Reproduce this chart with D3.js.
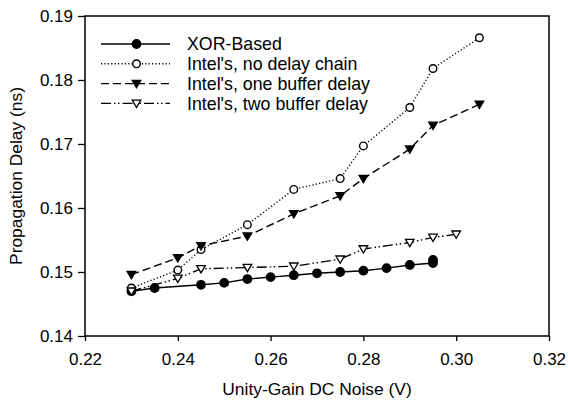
<!DOCTYPE html>
<html><head><meta charset="utf-8">
<script src="https://cdn.jsdelivr.net/npm/d3@7"></script>
<style>
html,body{margin:0;padding:0;background:#fff;}
svg{display:block;font-family:"Liberation Sans",Arial,sans-serif;}
</style></head>
<body><svg id="c" width="568" height="401"></svg>
<script>
const xTicks = [0.22,0.24,0.26,0.28,0.30,0.32];
const yTicks = [0.14,0.15,0.16,0.17,0.18,0.19];

const xorX = [0.23,0.235,0.245,0.25,0.255,0.26,0.265,0.27,0.275,0.28,0.285,0.29,0.295,0.295];
const xorY = [0.1470,0.1475,0.1480,0.1483,0.1489,0.1492,0.1495,0.1498,0.1500,0.1502,0.1506,0.1511,0.1514,0.1519];

const noDelayX = [0.23,0.24,0.245,0.255,0.265,0.275,0.28,0.29,0.295,0.305];
const noDelayY = [0.1475,0.1503,0.1535,0.1574,0.1629,0.1646,0.1697,0.1757,0.1818,0.1866];

const oneBufX = [0.23,0.24,0.245,0.255,0.265,0.275,0.28,0.29,0.295,0.305];
const oneBufY = [0.1496,0.1522,0.1541,0.1556,0.1591,0.1619,0.1646,0.1692,0.1729,0.1762];

const twoBufX = [0.23,0.24,0.245,0.255,0.265,0.275,0.28,0.29,0.295,0.30];
const twoBufY = [0.1470,0.1490,0.1505,0.1507,0.1509,0.1520,0.1536,0.1546,0.1554,0.1559];

const seriesNames = ["XOR-Based","Intel's, no delay chain","Intel's, one buffer delay","Intel's, two buffer delay"];

const svg = d3.select("#c");
const L=85, R=549, T=16, B=336;
const x = d3.scaleLinear().domain([0.22,0.32]).range([L,R]);
const y = d3.scaleLinear().domain([0.14,0.19]).range([B,T]);

// frame
svg.append("rect").attr("x",L).attr("y",T).attr("width",R-L).attr("height",B-T)
  .attr("fill","none").attr("stroke","#000").attr("stroke-width",1.5);

const xa = svg.append("g").attr("transform",`translate(0,${B})`)
  .call(d3.axisBottom(x).tickValues(xTicks).tickFormat(d3.format(".2f")).tickSize(5).tickPadding(12));
const ya = svg.append("g").attr("transform",`translate(${L},0)`)
  .call(d3.axisLeft(y).tickValues(yTicks).tickFormat(d3.format(".2f")).tickSize(7).tickPadding(5));
[xa,ya].forEach(a=>{
  a.select(".domain").remove();
  a.selectAll("line").attr("stroke","#000").attr("stroke-width",1.3);
  a.selectAll("text").attr("fill","#000").attr("font-size",17).attr("font-family","Liberation Sans, Arial, sans-serif");
});

svg.append("text").attr("x",(L+R)/2).attr("y",395).attr("text-anchor","middle")
  .attr("font-size",17.4).text("Unity-Gain DC Noise (V)");
svg.append("text").attr("transform",`translate(22,${(T+B)/2}) rotate(-90)`).attr("text-anchor","middle")
  .attr("font-size",17.4).text("Propagation Delay (ns)");

const series = [
  {xs:xorX, ys:xorY, dash:null, marker:"circle", fill:"#000"},
  {xs:noDelayX, ys:noDelayY, dash:"1.2,2.2", marker:"circle", fill:"#fff"},
  {xs:oneBufX, ys:oneBufY, dash:"8,4", marker:"tri", fill:"#000"},
  {xs:twoBufX, ys:twoBufY, dash:"10,3,1.5,2.5,1.5,3", marker:"tri", fill:"#fff"}
];

const line = d3.line().x(d=>x(d[0])).y(d=>y(d[1]));

function drawMarker(g, cx, cy, s){
  if(s.marker==="circle"){
    g.append("circle").attr("cx",cx).attr("cy",cy).attr("r",s.fill==="#000"?4.2:3.8)
      .attr("fill",s.fill).attr("stroke","#000").attr("stroke-width",1.4);
  } else {
    const h=4.3;
    g.append("path").attr("d",`M${cx-h},${cy-h*0.75}L${cx+h},${cy-h*0.75}L${cx},${cy+h*0.95}Z`)
      .attr("fill",s.fill).attr("stroke","#000").attr("stroke-width",1.3).attr("stroke-linejoin","miter");
  }
}

series.forEach(s=>{
  const pts = s.xs.map((v,i)=>[v,s.ys[i]]);
  const g = svg.append("g");
  g.append("path").attr("d",line(pts)).attr("fill","none").attr("stroke","#000")
    .attr("stroke-width",1.4).attr("stroke-dasharray",s.dash);
  pts.forEach(p=>drawMarker(g,x(p[0]),y(p[1]),s));
});

// legend
const legY = [44,63.8,83.6,103.4];
series.forEach((s,i)=>{
  const g = svg.append("g");
  g.append("line").attr("x1",101).attr("x2",170).attr("y1",legY[i]).attr("y2",legY[i])
    .attr("stroke","#000").attr("stroke-width",1.4).attr("stroke-dasharray",s.dash);
  drawMarker(g,136.5,legY[i],s);
  g.append("text").attr("x",187).attr("y",legY[i]+6.3).attr("font-size",17.8).text(seriesNames[i]);
});
</script></body></html>
